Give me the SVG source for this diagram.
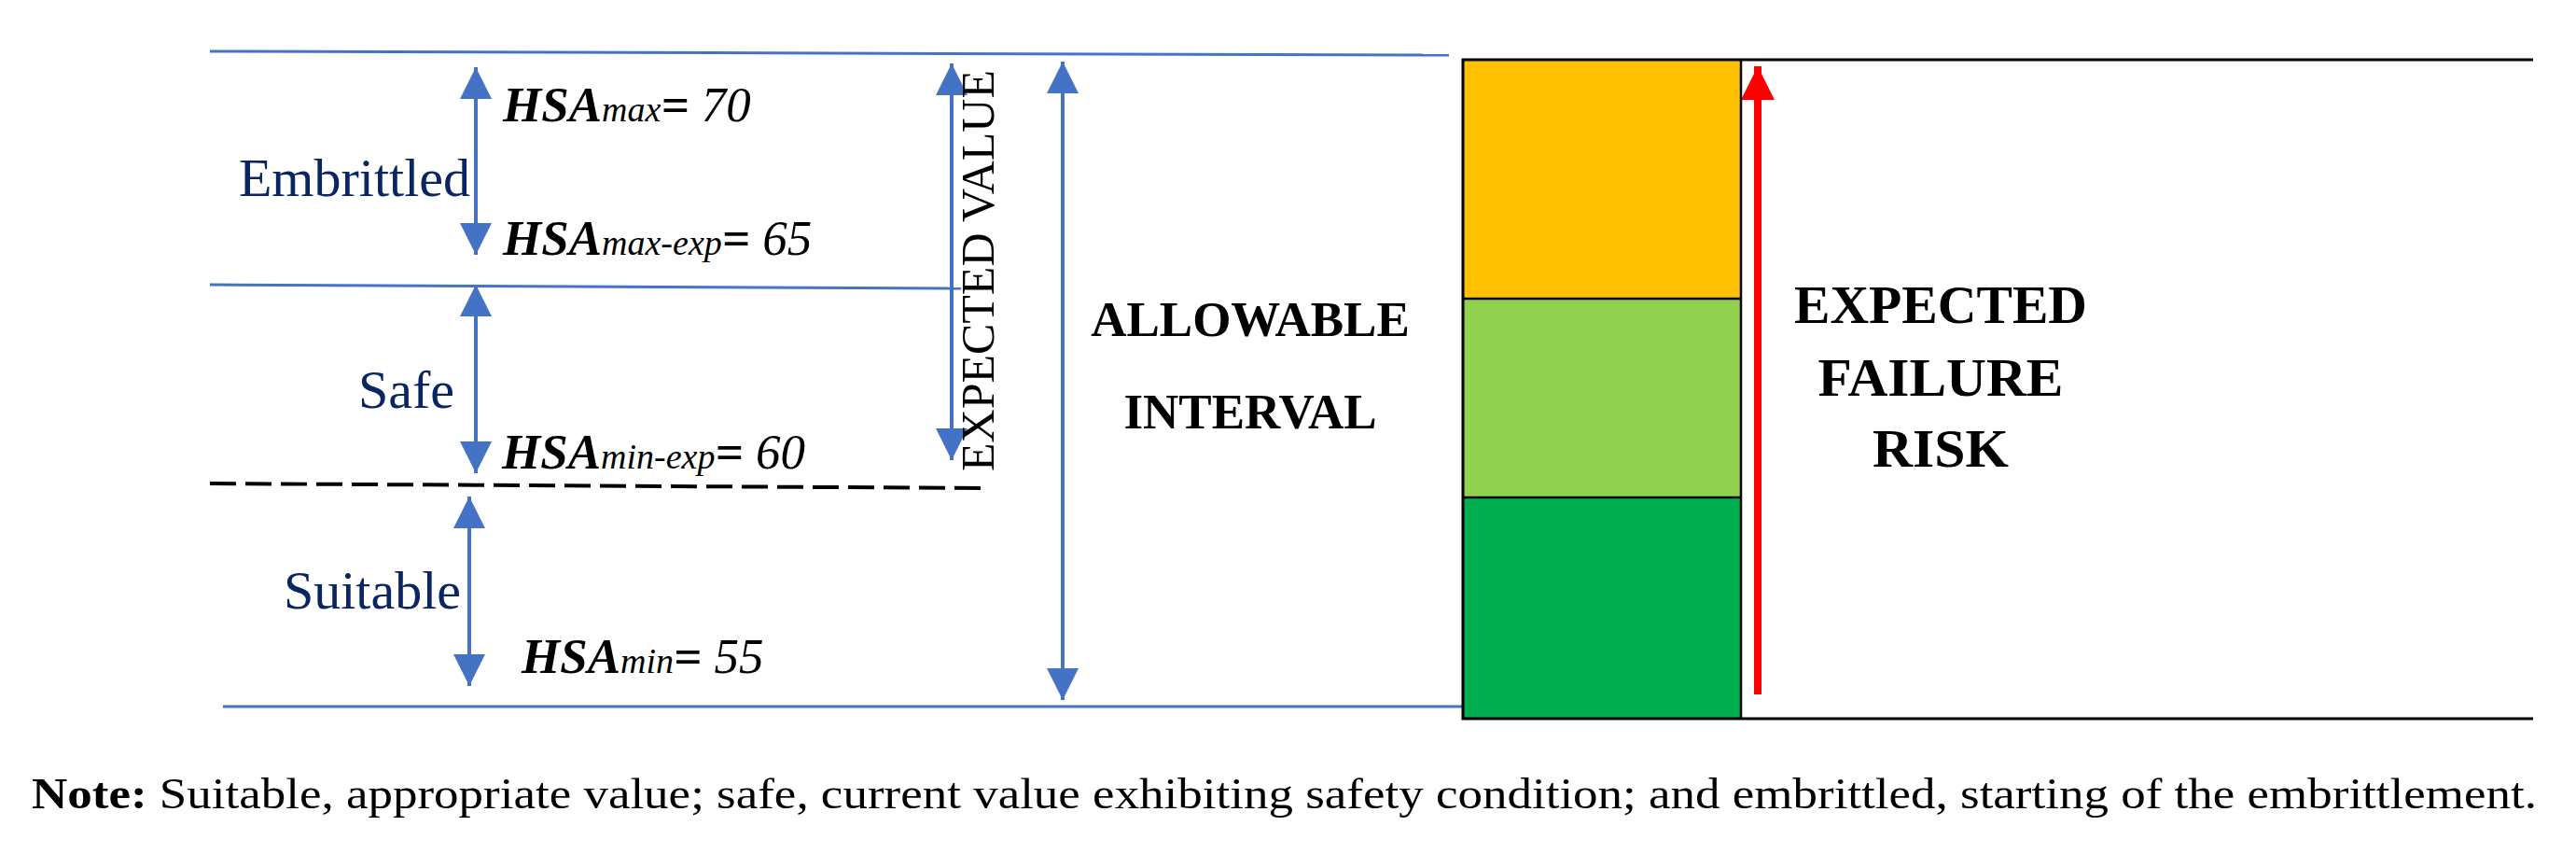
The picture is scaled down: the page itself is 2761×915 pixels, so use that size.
<svg xmlns="http://www.w3.org/2000/svg" width="2761" height="915" viewBox="0 0 2761 915">
  <style>
    .blue { stroke: #4472C4; stroke-width: 3; fill: none; }
    .barrow { stroke: #4472C4; stroke-width: 4; fill: none; marker-start: url(#bh); marker-end: url(#bh); }
    .zone { font-family: "Liberation Serif", "Times New Roman", serif; font-size: 58px; fill: #0B2563; text-anchor: end; }
    .hsa { font-family: "Liberation Serif", "Times New Roman", serif; font-size: 53px; font-style: italic; fill: #000; }
    .hsa .b { font-weight: bold; }
    .hsa .sub { font-size: 38px; }
    .cap { font-family: "Liberation Serif", "Times New Roman", serif; font-weight: bold; fill: #000; text-anchor: middle; }
    .edge { stroke: #000; stroke-width: 3; fill: none; }
  </style>
  <defs>
    <marker id="bh" markerUnits="userSpaceOnUse" markerWidth="34" markerHeight="34" viewBox="0 0 34 34" refX="34" refY="17" orient="auto-start-reverse">
      <path d="M0,0 L34,17 L0,34 z" fill="#4472C4"/>
    </marker>
    <marker id="rh" markerUnits="userSpaceOnUse" markerWidth="36" markerHeight="36" viewBox="0 0 36 36" refX="36" refY="18" orient="auto">
      <path d="M0,0 L36,18 L0,36 z" fill="#FF0000"/>
    </marker>
  </defs>
  <rect width="2761" height="915" fill="#fff"/>

  <g id="connectors">
    <path class="blue" d="M225,55 L1553,59"/>
    <path class="blue" d="M225,305 L1030,309"/>
    <path d="M225,518 L1057,523" stroke="#000" stroke-width="4" stroke-dasharray="28 10" fill="none"/>
    <path class="blue" d="M239,757 L1568,757"/>
    <line class="barrow" x1="510" y1="72" x2="510" y2="273"/>
    <line class="barrow" x1="510" y1="305" x2="510" y2="507"/>
    <line class="barrow" x1="503" y1="532" x2="503" y2="735"/>
    <line class="barrow" x1="1020" y1="68" x2="1020" y2="493"/>
    <line class="barrow" x1="1139" y1="66" x2="1139" y2="750"/>
    <line x1="1884" y1="744" x2="1884" y2="71" stroke="#FF0000" stroke-width="8" marker-end="url(#rh)"/>
  </g>

  <g id="zone-labels">
    <text class="zone" x="504" y="210">Embrittled</text>
    <text class="zone" x="487" y="437">Safe</text>
    <text class="zone" x="494" y="652">Suitable</text>
  </g>

  <g id="hsa-values">
    <text class="hsa" x="539" y="130"><tspan class="b">HSA</tspan><tspan class="sub">max</tspan><tspan class="b">=</tspan> 70</text>
    <text class="hsa" x="539" y="273"><tspan class="b">HSA</tspan><tspan class="sub">max-exp</tspan><tspan class="b">=</tspan> 65</text>
    <text class="hsa" x="538" y="502"><tspan class="b">HSA</tspan><tspan class="sub">min-exp</tspan><tspan class="b">=</tspan> 60</text>
    <text class="hsa" x="559" y="721"><tspan class="b">HSA</tspan><tspan class="sub">min</tspan><tspan class="b">=</tspan> 55</text>
  </g>

  <g id="expected-value">
    <text transform="translate(1065,505) rotate(-90)" font-family="Liberation Serif, Times New Roman, serif" font-size="50" fill="#000" textLength="430" lengthAdjust="spacingAndGlyphs">EXPECTED VALUE</text>
  </g>

  <g id="allowable-interval">
    <text class="cap" x="1340" y="360" font-size="53">ALLOWABLE</text>
    <text class="cap" x="1340" y="459" font-size="53">INTERVAL</text>
  </g>

  <g id="risk-bar">
    <rect x="1568" y="64" width="298" height="256" fill="#FFC000"/>
    <rect x="1568" y="320" width="298" height="213" fill="#92D050"/>
    <rect x="1568" y="533" width="298" height="237" fill="#00B050"/>
    <path class="edge" d="M2715,64 L1568,64 L1568,770 L2715,770"/>
    <path d="M1866,64 L1866,770 M1568,320 L1866,320 M1568,533 L1866,533" stroke="#000" stroke-width="2.5" fill="none"/>
  </g>

  <g id="failure-risk">
    <text class="cap" x="2080" y="346" font-size="58" textLength="314" lengthAdjust="spacingAndGlyphs">EXPECTED</text>
    <text class="cap" x="2080" y="424" font-size="58" textLength="263" lengthAdjust="spacingAndGlyphs">FAILURE</text>
    <text class="cap" x="2080" y="500" font-size="58" textLength="146" lengthAdjust="spacingAndGlyphs">RISK</text>
  </g>

  <g id="note">
    <text x="34" y="866" font-family="Liberation Serif, Times New Roman, serif" font-size="46" fill="#000" textLength="2685" lengthAdjust="spacingAndGlyphs"><tspan font-weight="bold">Note:</tspan> Suitable, appropriate value; safe, current value exhibiting safety condition; and embrittled, starting of the embrittlement.</text>
  </g>
</svg>
